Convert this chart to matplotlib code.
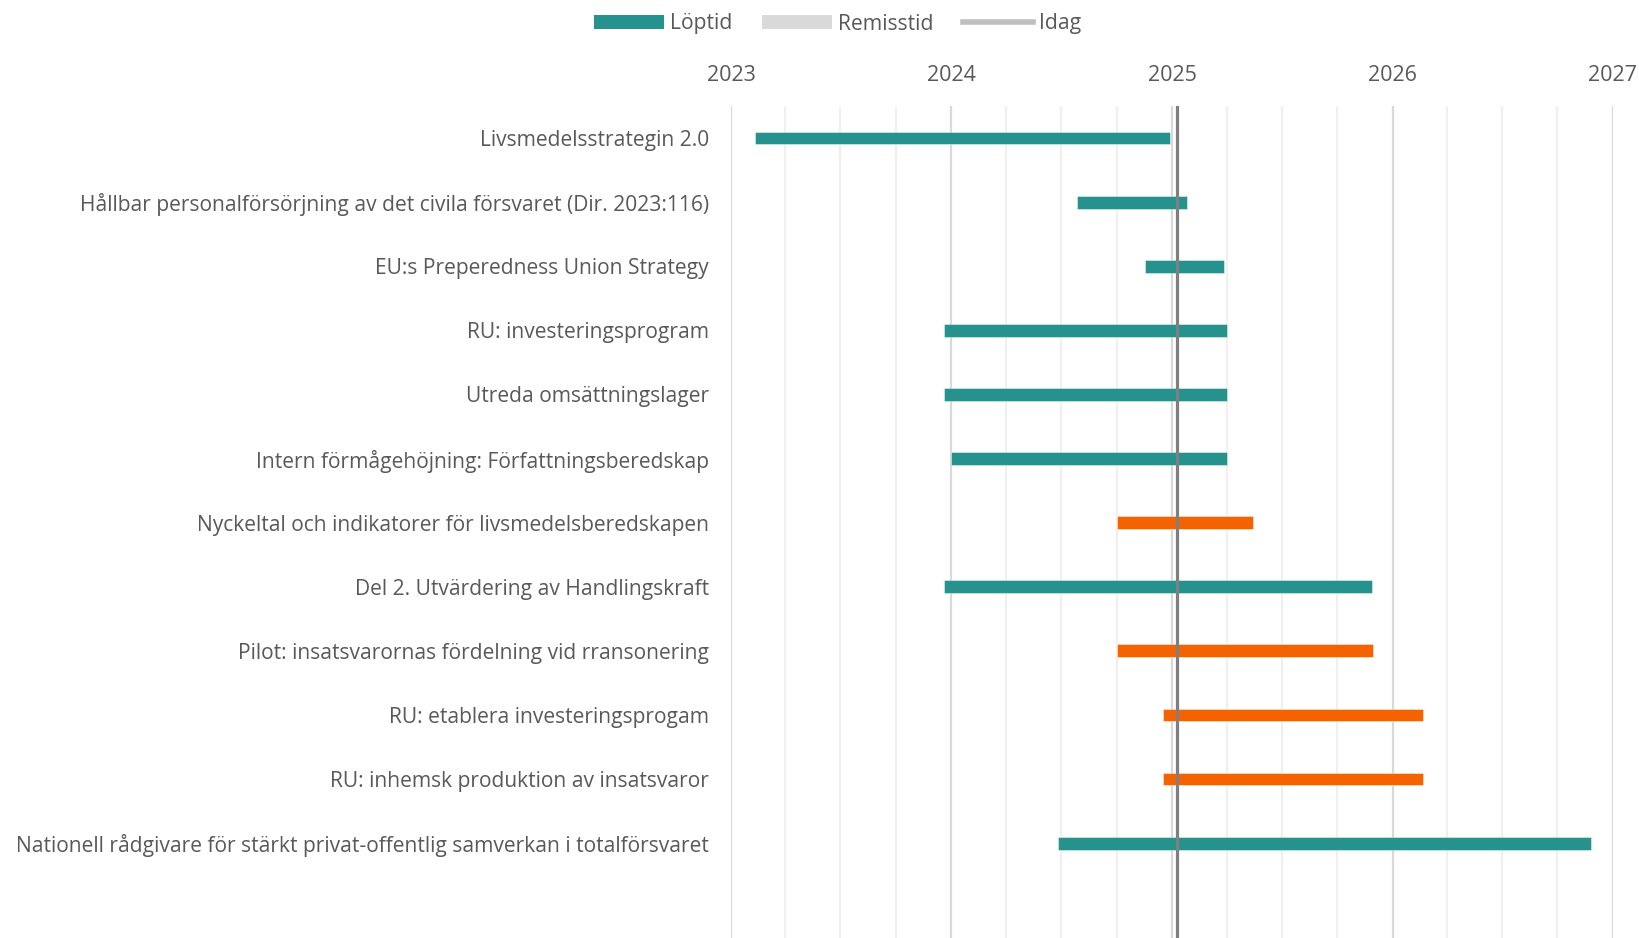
import datetime as dt
import matplotlib.pyplot as plt
import matplotlib.dates as mdates
from matplotlib.patches import Patch
from matplotlib.lines import Line2D

plt.rcParams['font.family'] = ['Open Sans', 'DejaVu Sans']

# =========================
# DATA
# =========================
uppdrag = [
    "Livsmedelsstrategin 2.0",
    "Hållbar personalförsörjning av det civila försvaret (Dir. 2023:116)",
    "EU:s Preperedness Union Strategy",
    "RU: investeringsprogram",
    "Utreda omsättningslager",
    "Intern förmågehöjning: Författningsberedskap",
    "Nyckeltal och indikatorer för livsmedelsberedskapen",
    "Del 2. Utvärdering av Handlingskraft",
    "Pilot: insatsvarornas fördelning vid rransonering",
    "RU: etablera investeringsprogam",
    "RU: inhemsk produktion av insatsvaror",
    "Nationell rådgivare för stärkt privat-offentlig samverkan i totalförsvaret",
]
start = ["2023-02-09", "2024-07-27", "2024-11-16", "2023-12-19", "2023-12-20", "2024-01-01",
         "2024-10-01", "2023-12-19", "2024-10-01", "2024-12-16", "2024-12-16", "2024-06-26"]
slut = ["2024-12-28", "2025-01-26", "2025-03-27", "2025-04-01", "2025-04-01", "2025-04-01",
        "2025-05-15", "2025-11-28", "2025-11-30", "2026-02-20", "2026-02-20", "2026-11-26"]
typ = ["löptid", "löptid", "löptid", "löptid", "löptid", "löptid",
       "eget", "löptid", "eget", "eget", "eget", "löptid"]
idag = "2025-01-08"
ar = [2023, 2024, 2025, 2026, 2027]

# =========================
# STYLE
# =========================
TEAL = "#25928D"
ORANGE = "#F56300"
TEXT = "#595959"
farger = {"löptid": TEAL, "eget": ORANGE}


def d(s):
    return mdates.date2num(dt.date.fromisoformat(s))


fig = plt.figure(figsize=(16.39, 9.38), dpi=100)
ax = fig.add_axes([731 / 1639, 0, (1613 - 731) / 1639, 1 - 106 / 938])

# gridlines: quarters light, years darker
for y in range(ar[0], ar[-1]):
    for m in (4, 7, 10):
        ax.axvline(mdates.date2num(dt.date(y, m, 1)), color="#F0F0F0", lw=1.6, zorder=0)
for y in ar:
    ax.axvline(mdates.date2num(dt.date(y, 1, 1)), color="#D9D9D9", lw=1.6, zorder=0)

pos = list(range(len(uppdrag)))
left = [d(s) for s in start]
width = [d(e) - d(s) for s, e in zip(start, slut)]
cols = [farger[t] for t in typ]
ax.barh(pos, width, left=left, height=0.2, color=cols,
        edgecolor=(1, 1, 1, 0.5), linewidth=0.6, zorder=2)

ax.axvline(d(idag), color="#7F7F7F", lw=2.3, zorder=3)

ax.set_xlim(mdates.date2num(dt.date(ar[0], 1, 1)), mdates.date2num(dt.date(ar[-1], 1, 1)))
ax.set_ylim(12.48, -0.5)
ax.set_yticks(pos)
ax.set_yticklabels(uppdrag)
ax.set_xticks([mdates.date2num(dt.date(y, 1, 1)) for y in ar])
ax.set_xticklabels([str(y) for y in ar])
ax.xaxis.tick_top()
ax.tick_params(axis="x", length=0, pad=14.5, labelsize=15.5, labelcolor=TEXT)
ax.tick_params(axis="y", length=0, pad=16, labelsize=15.1, labelcolor=TEXT)
for s in ax.spines.values():
    s.set_visible(False)

handles = [
    Patch(facecolor=TEAL, label="Löptid"),
    Patch(facecolor="#D9D9D9", label="Remisstid"),
    Line2D([0], [0], color="#BFBFBF", lw=4, label="Idag"),
]
fig.legend(handles=handles, loc="center", bbox_to_anchor=(838 / 1639, 1 - 24 / 938),
           ncol=3, frameon=False, fontsize=15.2, labelcolor=TEXT,
           handlelength=3.3, handleheight=0.7, handletextpad=0.3, columnspacing=1.4)

fig.savefig("out.png", dpi=100)
